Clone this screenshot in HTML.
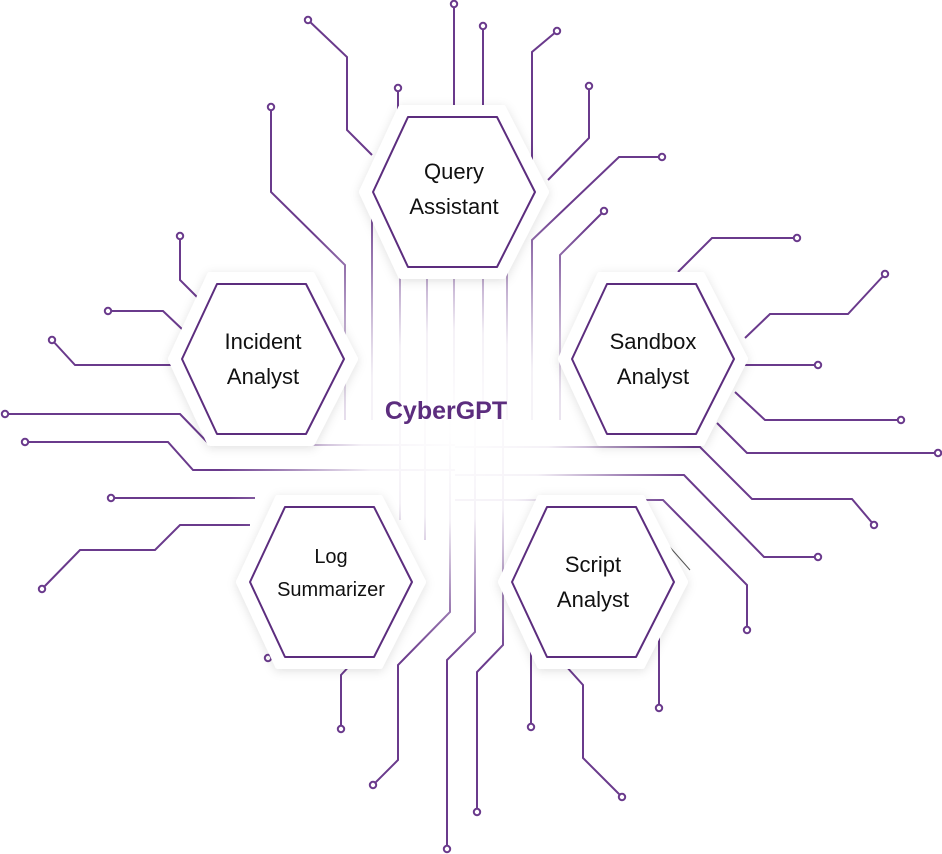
<!DOCTYPE html>
<html><head><meta charset="utf-8"><style>
html,body{margin:0;padding:0;background:#fff;}
body{width:942px;height:854px;overflow:hidden;position:relative;font-family:"Liberation Sans",sans-serif;}
svg{position:absolute;left:0;top:0;}
</style></head><body>
<svg width="942" height="854" viewBox="0 0 942 854">
<defs>
<radialGradient id="fade" cx="455" cy="425" r="240" gradientUnits="userSpaceOnUse">
<stop offset="0" stop-color="#fff" stop-opacity="1"/>
<stop offset="0.4" stop-color="#fff" stop-opacity="0.93"/>
<stop offset="0.75" stop-color="#fff" stop-opacity="0.35"/>
<stop offset="1" stop-color="#fff" stop-opacity="0"/>
</radialGradient>
<filter id="sh" x="-20%" y="-20%" width="140%" height="140%"><feDropShadow dx="0" dy="2" stdDeviation="5" flood-color="#000" flood-opacity="0.12"/></filter>
</defs>
<g fill="none" stroke="#6a3a8c" stroke-width="2">
<polyline points="308,20 347,57 347,130 372,155"/>
<polyline points="454,4 454,420"/>
<polyline points="483,26 483,420"/>
<polyline points="557,31 532,52 532,160"/>
<polyline points="589,86 589,138 548,180"/>
<polyline points="662,157 619,157 532,240 532,420"/>
<polyline points="604,211 560,255 560,420"/>
<polyline points="398,88 398,117"/>
<polyline points="271,107 271,192 345,265 345,420"/>
<polyline points="372,200 372,420"/>
<polyline points="400,260 400,420"/>
<polyline points="427,260 427,420"/>
<polyline points="507,260 507,420"/>
<polyline points="180,236 180,280 200,300"/>
<polyline points="108,311 163,311 183,330"/>
<polyline points="52,340 75,365 182,365"/>
<polyline points="5,414 180,414 210,445 455,445"/>
<polyline points="25,442 168,442 193,470 455,470"/>
<polyline points="111,498 255,498"/>
<polyline points="42,589 80,550 155,550 180,525 250,525"/>
<polyline points="797,238 712,238 678,272"/>
<polyline points="885,274 848,314 770,314 745,338"/>
<polyline points="818,365 740,365"/>
<polyline points="901,420 765,420 735,392"/>
<polyline points="938,453 747,453 717,423"/>
<polyline points="874,525 852,499 752,499 700,447 455,447"/>
<polyline points="818,557 764,557 684,475 455,475"/>
<polyline points="747,630 747,585 663,500 455,500"/>
<polyline points="341,729 341,675 355,660"/>
<polyline points="268,658 280,658"/>
<polyline points="373,785 398,760 398,665 450,612 450,420"/>
<polyline points="447,849 447,660 475,632 475,420"/>
<polyline points="477,812 477,672 503,645 503,420"/>
<polyline points="531,727 531,640"/>
<polyline points="622,797 583,758 583,685 565,665"/>
<polyline points="659,708 659,630"/>
<polyline points="400,420 400,520"/>
<polyline points="425,420 425,540"/>
</g>
<g fill="#fff" stroke="#6a3a8c" stroke-width="2">
<circle cx="308" cy="20" r="3.2"/><circle cx="454" cy="4" r="3.2"/><circle cx="483" cy="26" r="3.2"/>
<circle cx="557" cy="31" r="3.2"/><circle cx="589" cy="86" r="3.2"/><circle cx="662" cy="157" r="3.2"/>
<circle cx="604" cy="211" r="3.2"/><circle cx="398" cy="88" r="3.2"/><circle cx="271" cy="107" r="3.2"/>
<circle cx="180" cy="236" r="3.2"/><circle cx="108" cy="311" r="3.2"/><circle cx="52" cy="340" r="3.2"/>
<circle cx="5" cy="414" r="3.2"/><circle cx="25" cy="442" r="3.2"/><circle cx="111" cy="498" r="3.2"/>
<circle cx="42" cy="589" r="3.2"/><circle cx="797" cy="238" r="3.2"/><circle cx="885" cy="274" r="3.2"/>
<circle cx="818" cy="365" r="3.2"/><circle cx="901" cy="420" r="3.2"/><circle cx="938" cy="453" r="3.2"/>
<circle cx="874" cy="525" r="3.2"/><circle cx="818" cy="557" r="3.2"/><circle cx="747" cy="630" r="3.2"/>
<circle cx="341" cy="729" r="3.2"/><circle cx="268" cy="658" r="3.2"/><circle cx="373" cy="785" r="3.2"/>
<circle cx="447" cy="849" r="3.2"/><circle cx="477" cy="812" r="3.2"/><circle cx="531" cy="727" r="3.2"/>
<circle cx="622" cy="797" r="3.2"/><circle cx="659" cy="708" r="3.2"/>
</g>
<rect x="0" y="0" width="942" height="854" fill="url(#fade)"/>
<line x1="668" y1="545" x2="690" y2="570" stroke="#555" stroke-width="1"/>
<g>
<g transform="translate(454,192)">
<polygon points="-92,0 -53,-84 49,-84 92,0 49,84 -53,84" fill="#fff" stroke="#fff" stroke-width="6" stroke-linejoin="round" filter="url(#sh)"/>
<polygon points="-81,0 -46,-75 43,-75 81,0 43,75 -46,75" fill="#fff" stroke="#5c2d7e" stroke-width="2" stroke-linejoin="round"/>
</g>
<g transform="translate(263,359)">
<polygon points="-92,0 -53,-84 49,-84 92,0 49,84 -53,84" fill="#fff" stroke="#fff" stroke-width="6" stroke-linejoin="round" filter="url(#sh)"/>
<polygon points="-81,0 -46,-75 43,-75 81,0 43,75 -46,75" fill="#fff" stroke="#5c2d7e" stroke-width="2" stroke-linejoin="round"/>
</g>
<g transform="translate(653,359)">
<polygon points="-92,0 -53,-84 49,-84 92,0 49,84 -53,84" fill="#fff" stroke="#fff" stroke-width="6" stroke-linejoin="round" filter="url(#sh)"/>
<polygon points="-81,0 -46,-75 43,-75 81,0 43,75 -46,75" fill="#fff" stroke="#5c2d7e" stroke-width="2" stroke-linejoin="round"/>
</g>
<g transform="translate(331,582)">
<polygon points="-92,0 -53,-84 49,-84 92,0 49,84 -53,84" fill="#fff" stroke="#fff" stroke-width="6" stroke-linejoin="round" filter="url(#sh)"/>
<polygon points="-81,0 -46,-75 43,-75 81,0 43,75 -46,75" fill="#fff" stroke="#5c2d7e" stroke-width="2" stroke-linejoin="round"/>
</g>
<g transform="translate(593,582)">
<polygon points="-92,0 -53,-84 49,-84 92,0 49,84 -53,84" fill="#fff" stroke="#fff" stroke-width="6" stroke-linejoin="round" filter="url(#sh)"/>
<polygon points="-81,0 -46,-75 43,-75 81,0 43,75 -46,75" fill="#fff" stroke="#5c2d7e" stroke-width="2" stroke-linejoin="round"/>
</g>
</g>
<g font-family="Liberation Sans, sans-serif" font-size="22" fill="#111" text-anchor="middle">
<text x="454" y="179">Query</text><text x="454" y="214">Assistant</text>
<text x="263" y="349">Incident</text><text x="263" y="384">Analyst</text>
<text x="653" y="349">Sandbox</text><text x="653" y="384">Analyst</text>
<text x="331" y="563" font-size="20">Log</text><text x="331" y="596" font-size="20">Summarizer</text>
<text x="593" y="572">Script</text><text x="593" y="607">Analyst</text>
</g>
<text x="446" y="419" text-anchor="middle" font-family="Liberation Sans, sans-serif" font-weight="bold" font-size="25" fill="#5c2d7e">CyberGPT</text>
</svg>
</body></html>
